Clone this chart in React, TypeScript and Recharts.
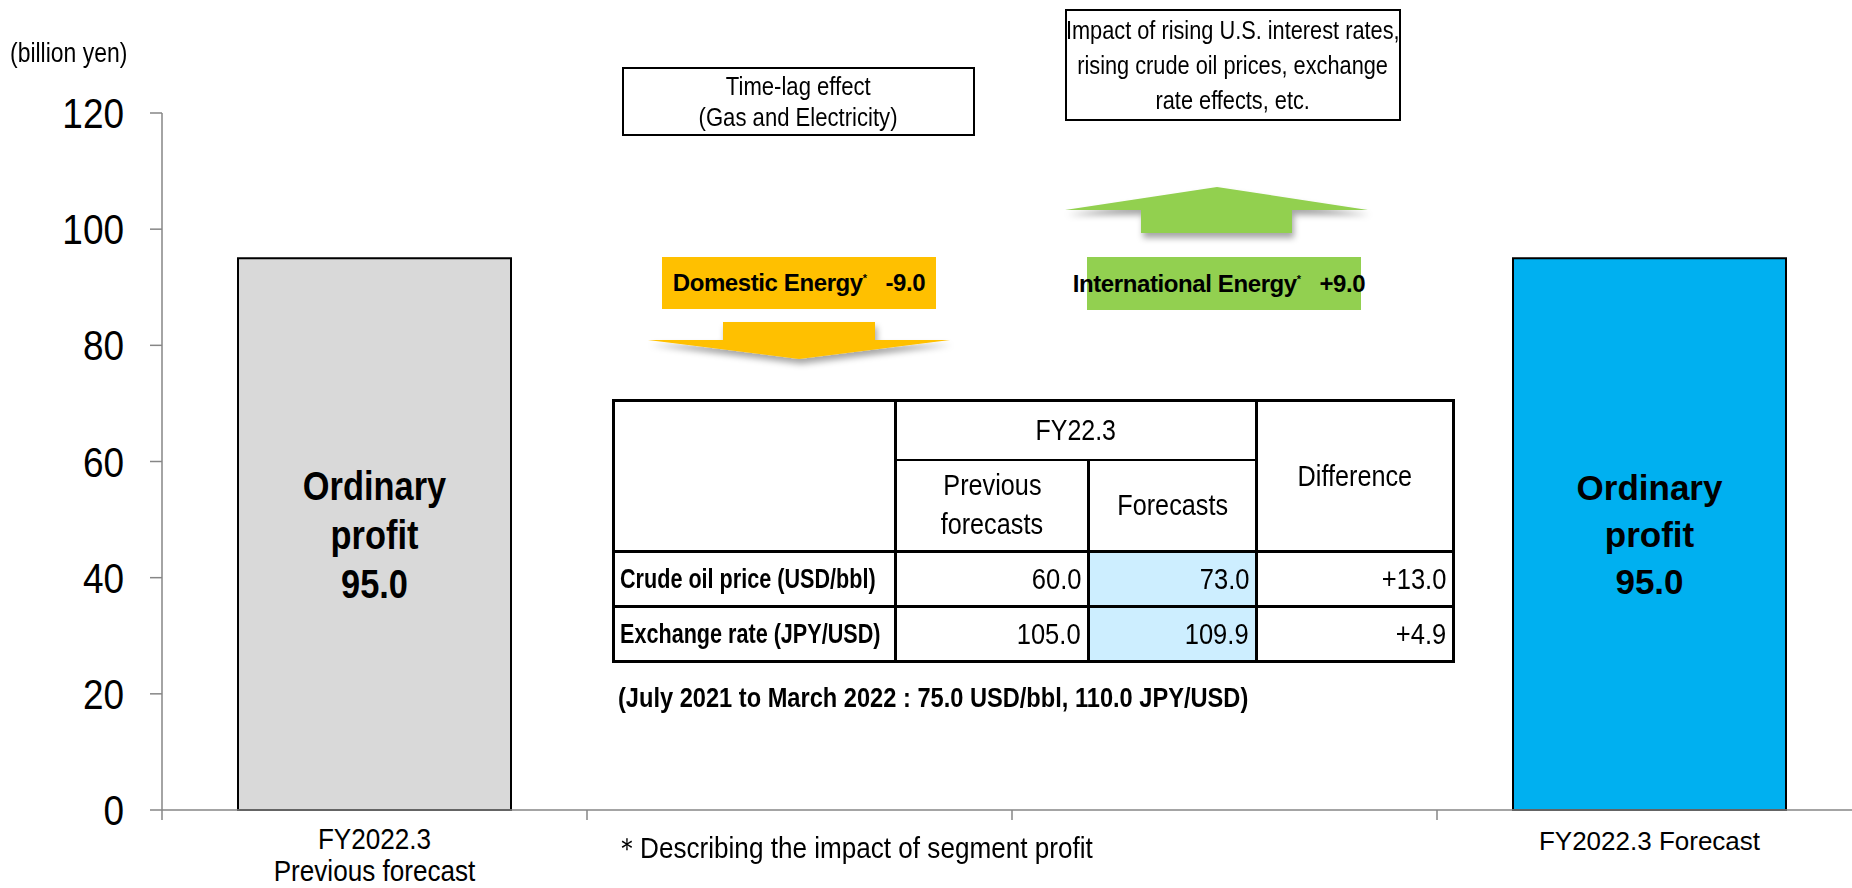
import { BarChart, Bar, XAxis, YAxis, Cell, LabelList } from "recharts";

const ARIAL = "'Liberation Sans', Arial, sans-serif";

// chart data
const categories = ["prev", "gap1", "gap2", "forecast"];
const categoryLabels = [["FY2022.3", "Previous forecast"], [], [], ["FY2022.3 Forecast"]];
const profit = [95.0, null, null, 95.0];
const barFills = ["#d9d9d9", "none", "none", "#00b0f0"];
const yTicks = [0, 20, 40, 60, 80, 100, 120];

// segment impacts
const segmentNames = ["Domestic Energy", "International Energy"];
const segmentImpacts = [-9.0, 9.0];
const segmentNotes = [
  ["Time-lag effect", "(Gas and Electricity)"],
  ["Impact of rising U.S. interest rates,", "rising crude oil prices, exchange", "rate effects, etc."],
];

// assumptions table
const assumptionRows = ["Crude oil price (USD/bbl)", "Exchange rate (JPY/USD)"];
const previousForecasts = [60.0, 105.0];
const currentForecasts = [73.0, 109.9];
const actualNote = "(July 2021 to March 2022 : 75.0 USD/bbl, 110.0 JPY/USD)";

const data = categories.map((key, i) => ({ key, profit: profit[i] }));

const W = 1852;
const H = 888;
const MARGIN = { top: 113, right: -10, bottom: 0, left: 0 };
const Y_AXIS_W = 162;
const BAND = (W - MARGIN.left - MARGIN.right - Y_AXIS_W) / categories.length;
const AXIS = "#868686";

const signed = (v: number) => (v > 0 ? "+" : "") + v.toFixed(1);

// the original uses a condensed face; squeeze Liberation Sans horizontally instead
const Squeeze = ({ k, origin = "center", children }: any) => (
  <span
    style={{
      display: "inline-block",
      whiteSpace: "nowrap",
      transform: `scaleX(${k})`,
      transformOrigin: origin,
    }}
  >
    {children}
  </span>
);

const YTick = ({ x, y, payload }: any) => (
  <text
    transform={`translate(${x},${y}) scale(0.88,1)`}
    textAnchor="end"
    dy="0.36em"
    fontFamily={ARIAL}
    fontSize={42}
    fill="#000"
  >
    {payload.value}
  </text>
);

const BarLabel = (props: any) => {
  const { x, y, width, height, value, index } = props;
  if (value == null) return null;
  const left = index === 0;
  const cx = x + width / 2;
  const cy = y + height / 2;
  const fs = left ? 40 : 35;
  const lh = left ? 49 : 47;
  const k = left ? 0.86 : 1;
  const lines = ["Ordinary", "profit", Number(value).toFixed(1)];
  return (
    <g transform={`translate(${cx},${cy}) scale(${k},1)`}>
      <text textAnchor="middle" fontFamily={ARIAL} fontWeight="bold" fontSize={fs} fill="#000">
        {lines.map((l, j) => (
          <tspan key={j} x={0} y={(j - 1) * lh + fs * 0.36}>
            {l}
          </tspan>
        ))}
      </text>
    </g>
  );
};

// Excel style: tick marks sit between categories, labels in the middle
const CategoryTick = ({ x, y, payload }: any) => {
  const i = categories.indexOf(payload.value);
  const lines = categoryLabels[i] || [];
  const single = lines.length === 1;
  const k = single ? 1 : 0.87;
  const edges = [x - BAND / 2];
  if (i === categories.length - 1) edges.push(x + BAND / 2);
  return (
    <g>
      {edges.map((ex) => (
        <line key={ex} x1={ex} x2={ex} y1={y} y2={y + 10} stroke={AXIS} strokeWidth={1.5} />
      ))}
      <g transform={`translate(${x},${y}) scale(${k},1)`}>
        <text textAnchor="middle" fontFamily={ARIAL} fontSize={single ? 26 : 30} fill="#000">
          {lines.map((l, j) => (
            <tspan key={j} x={0} y={(single ? 40 : 39) + j * 32}>
              {l}
            </tspan>
          ))}
        </text>
      </g>
    </g>
  );
};

const box: React.CSSProperties = {
  position: "absolute",
  boxSizing: "border-box",
  display: "flex",
  flexDirection: "column",
  alignItems: "center",
  justifyContent: "center",
  color: "#000",
  fontFamily: ARIAL,
};

const cell: React.CSSProperties = {
  border: "3px solid #000",
  padding: "0 6px",
  fontFamily: ARIAL,
  fontSize: 29,
  color: "#000",
  overflow: "visible",
  whiteSpace: "nowrap",
};

export default function App() {
  return (
    <div style={{ position: "relative", width: W, height: H, background: "#fff", overflow: "hidden" }}>
      <style>{`body{margin:0}`}</style>
      <BarChart width={W} height={H} data={data} margin={MARGIN}>
        <YAxis
          domain={[0, 120]}
          ticks={yTicks}
          width={Y_AXIS_W}
          tickSize={12}
          tickMargin={26}
          axisLine={{ stroke: AXIS, strokeWidth: 1.5 }}
          tickLine={{ stroke: AXIS, strokeWidth: 1.5 }}
          tick={<YTick />}
        />
        <XAxis
          dataKey="key"
          height={78}
          axisLine={{ stroke: AXIS, strokeWidth: 1.5 }}
          tickLine={false}
          tickSize={0}
          tickMargin={0}
          interval={0}
          tick={<CategoryTick />}
        />
        <Bar dataKey="profit" barSize={273} stroke="#000" strokeWidth={2} isAnimationActive={false}>
          {data.map((d, i) => (
            <Cell key={d.key} fill={barFills[i]} />
          ))}
          <LabelList dataKey="profit" content={<BarLabel />} />
        </Bar>
      </BarChart>

      <div style={{ position: "absolute", left: 10, top: 38, fontFamily: ARIAL, fontSize: 27, color: "#000" }}>
        <Squeeze k={0.85} origin="left">(billion yen)</Squeeze>
      </div>

      {/* arrows */}
      <svg width={W} height={H} style={{ position: "absolute", left: 0, top: 0, pointerEvents: "none" }}>
        <defs>
          <filter id="shadow" x="-20%" y="-60%" width="140%" height="260%">
            <feDropShadow dx="2" dy="5" stdDeviation="3" floodColor="#000" floodOpacity="0.35" />
          </filter>
        </defs>
        <polygon points="723,322 875,322 875,340 950,340 799,359 648,340 723,340" fill="#ffc000" filter="url(#shadow)" />
        <polygon points="1217,187 1368,210 1292,210 1292,233 1141,233 1141,210 1065,210" fill="#92d050" filter="url(#shadow)" />
      </svg>

      {/* notes */}
      <div style={{ ...box, left: 622, top: 67, width: 353, height: 69, border: "2px solid #000", fontSize: 26, lineHeight: "31px" }}>
        {segmentNotes[0].map((t) => (
          <Squeeze key={t} k={0.85}>
            {t}
          </Squeeze>
        ))}
      </div>
      <div style={{ ...box, left: 1065, top: 9, width: 336, height: 112, border: "2px solid #000", fontSize: 25, lineHeight: "35px" }}>
        {segmentNotes[1].map((t) => (
          <Squeeze key={t} k={0.87}>
            {t}
          </Squeeze>
        ))}
      </div>

      {/* segment labels */}
      <div style={{ ...box, left: 662, top: 257, width: 274, height: 52, background: "#ffc000", fontWeight: "bold", fontSize: 24, letterSpacing: -0.4, whiteSpace: "nowrap" }}>
        <div>
          {segmentNames[0]}
          <sup style={{ fontSize: 11 }}>*</sup>
          {"\u00a0\u00a0 "}
          {signed(segmentImpacts[0])}
        </div>
      </div>
      <div style={{ ...box, left: 1087, top: 257, width: 274, height: 53, background: "#92d050" }} />
      <div style={{ ...box, left: 1060, top: 257, width: 318, height: 53, fontWeight: "bold", fontSize: 24, letterSpacing: -0.4, whiteSpace: "nowrap" }}>
        <div>
          {segmentNames[1]}
          <sup style={{ fontSize: 11 }}>*</sup>
          {"\u00a0\u00a0 "}
          {signed(segmentImpacts[1])}
        </div>
      </div>

      {/* assumptions table */}
      <table
        style={{
          position: "absolute",
          left: 612,
          top: 399,
          width: 840,
          borderCollapse: "collapse",
          tableLayout: "fixed",
          background: "#fff",
        }}
      >
        <colgroup>
          <col style={{ width: 282 }} />
          <col style={{ width: 193 }} />
          <col style={{ width: 168 }} />
          <col style={{ width: 197 }} />
        </colgroup>
        <tbody>
          <tr style={{ height: 59 }}>
            <td style={cell} rowSpan={2} />
            <td style={{ ...cell, textAlign: "center", borderBottomWidth: 2.5 }} colSpan={2}>
              <Squeeze k={0.86}>FY22.3</Squeeze>
            </td>
            <td style={{ ...cell, textAlign: "center", lineHeight: "30px" }} rowSpan={2}>
              <Squeeze k={0.87}>Difference</Squeeze>
            </td>
          </tr>
          <tr style={{ height: 92 }}>
            <td style={{ ...cell, textAlign: "center", lineHeight: "39px", borderTopWidth: 2.5 }}>
              <Squeeze k={0.87}>Previous</Squeeze>
              <br />
              <Squeeze k={0.87}>forecasts</Squeeze>
            </td>
            <td style={{ ...cell, textAlign: "center", borderTopWidth: 2.5 }}>
              <Squeeze k={0.87}>Forecasts</Squeeze>
            </td>
          </tr>
          {assumptionRows.map((r, i) => (
            <tr key={r} style={{ height: 55 }}>
              <td style={{ ...cell, fontWeight: "bold", fontSize: 27, paddingLeft: 5 }}>
                <Squeeze k={0.8} origin="left">
                  {r}
                </Squeeze>
              </td>
              <td style={{ ...cell, textAlign: "right" }}>
                <Squeeze k={0.88} origin="right">
                  {previousForecasts[i].toFixed(1)}
                </Squeeze>
              </td>
              <td style={{ ...cell, textAlign: "right", background: "#cdeeff" }}>
                <Squeeze k={0.88} origin="right">
                  {currentForecasts[i].toFixed(1)}
                </Squeeze>
              </td>
              <td style={{ ...cell, textAlign: "right" }}>
                <Squeeze k={0.88} origin="right">
                  {signed(currentForecasts[i] - previousForecasts[i])}
                </Squeeze>
              </td>
            </tr>
          ))}
        </tbody>
      </table>

      <div style={{ position: "absolute", left: 618, top: 683, fontFamily: ARIAL, fontWeight: "bold", fontSize: 27, color: "#000" }}>
        <Squeeze k={0.875} origin="left">
          {actualNote}
        </Squeeze>
      </div>
      <div style={{ position: "absolute", left: 614, top: 829, fontFamily: ARIAL, fontSize: 29, color: "#000" }}>
        <Squeeze k={0.9} origin="left">
          ＊Describing the impact of segment profit
        </Squeeze>
      </div>
    </div>
  );
}
